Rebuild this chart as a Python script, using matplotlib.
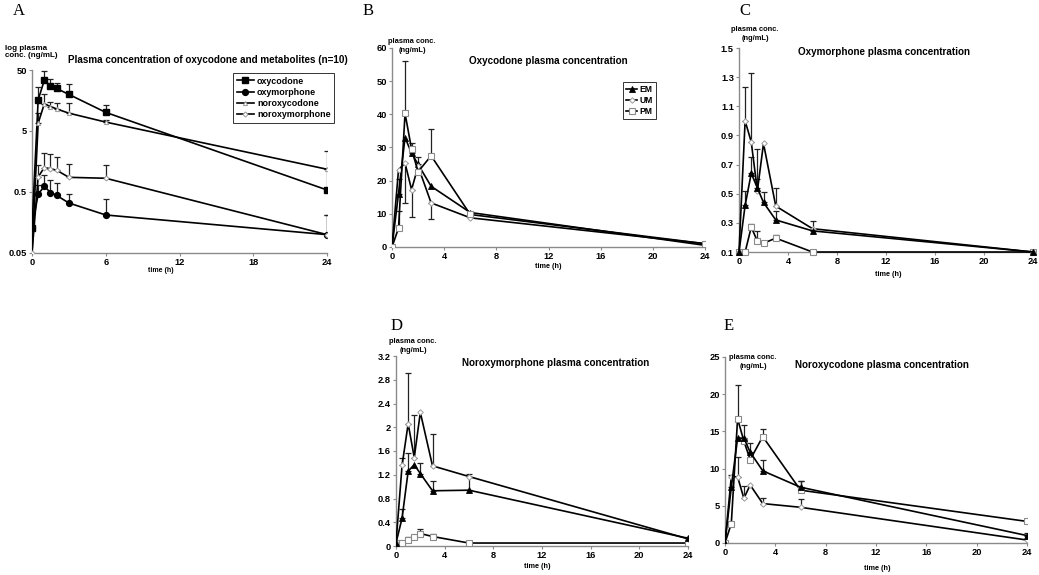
import numpy as np
import matplotlib
matplotlib.use("Agg")
import matplotlib.pyplot as plt

plt.rcParams['font.family'] = ['Liberation Sans', 'DejaVu Sans']
plt.rcParams['font.weight'] = 'bold'

W, H = 1039, 575
def fx(px): return px / W
def fy(py): return 1 - py / H

# ---------------- data ----------------
time_h = [0, 0.5, 1, 1.5, 2, 3, 6, 24]

# Panel A (log scale, n=10)
a_oxycodone = [0.13, 16.2, 33.8, 27.6, 24.9, 19.9, 10.1, 0.54]
a_oxycodone_sd = [0, 9.7, 13.7, 7.9, 5.6, 9.3, 3.0, 0.66]
a_oxymorphone = [0.13, 0.46, 0.62, 0.49, 0.44, 0.33, 0.21, 0.10]
a_oxymorphone_sd = [0, 0.20, 0.33, 0.31, 0.26, 0.13, 0.17, 0.11]
a_noroxycodone = [0.05, 6.7, 13.9, 12.6, 11.5, 9.8, 7.0, 1.18]
a_noroxycodone_sd = [0, 3.3, 6.0, 2.6, 3.1, 4.4, 0.5, 1.2]
a_noroxymorphone = [0.05, 0.88, 1.26, 1.2, 1.14, 0.87, 0.84, 0.10]
a_noroxymorphone_sd = [0, 0.52, 0.88, 0.9, 0.7, 0.57, 0.55, 0.11]

# Panel B: oxycodone
b_em = [0, 16.1, 33.0, 28.3, 24.9, 18.3, 10.4, 0.5]
b_em_sd = [0, 4.4, 0, 1.7, 2.1, 0, 0, 0]
b_um = [0, 23.3, 25.3, 17.3, 24.3, 13.3, 8.8, 1.0]
b_um_sd_down = [0, 0, 12.1, 8.3, 0, 4.8, 0, 0]
b_pm = [0, 5.7, 40.3, 29.5, 22.7, 27.5, 9.8, 1.0]
b_pm_sd = [0, 5.3, 15.7, 2.0, 0, 8.0, 0, 0]

# Panel C: oxymorphone
c_em = [0.1, 0.42, 0.64, 0.54, 0.44, 0.32, 0.245, 0.1]
c_em_sd = [0, 0.10, 0.11, 0.06, 0.07, 0.06, 0.065, 0]
c_um = [0.1, 1.0, 0.855, 0.52, 0.845, 0.415, 0.26, 0.1]
c_um_sd = [0, 0.23, 0.475, 0.29, 0, 0.125, 0, 0]
c_pm = [0.1, 0.1, 0.27, 0.175, 0.16, 0.195, 0.1, 0.1]
c_pm_sd = [0, 0, 0.02, 0.07, 0, 0.025, 0, 0]

# Panel D: noroxymorphone
d_em = [0.05, 0.47, 1.26, 1.37, 1.22, 0.93, 0.94, 0.13]
d_em_sd = [0, 0.15, 0.31, 0, 0.18, 0.16, 0.28, 0.03]
d_um = [0.05, 1.36, 2.06, 1.49, 2.25, 1.35, 1.17, 0.12]
d_um_sd = [0, 0.13, 0.86, 0.71, 0, 0.54, 0, 0]
d_pm = [0.05, 0.05, 0.1, 0.16, 0.21, 0.16, 0.05, 0.05]
d_pm_sd = [0, 0, 0.06, 0, 0.07, 0.04, 0, 0]

# Panel E: noroxycodone
e_em = [0, 7.5, 14.1, 14.1, 12.2, 9.7, 7.5, 1.0]
e_em_sd = [0, 1.7, 0, 1.8, 1.2, 1.4, 0.9, 0.4]
e_um = [0, 8.9, 8.9, 6.0, 7.8, 5.3, 4.8, 0.4]
e_um_sd = [0, 0, 2.7, 1.6, 0, 0.7, 1.1, 0]
e_pm = [0, 2.6, 16.7, 13.7, 11.2, 14.3, 7.1, 2.9]
e_pm_sd = [0, 0, 4.6, 0, 0, 1.0, 1.3, 0.3]

# ---------------- styling ----------------
AXCOL = '#8a8a8a'
TICKFS = 6.7
TITLEFS = 7.1
LABFS = 5.4
LW = 1.2
styles = {
    'EM': dict(marker='^', ms=4.0, mfc='black', mec='black', mew=0.6),
    'UM': dict(marker='D', ms=2.8, mfc='white', mec='#9a9a9a', mew=0.7),
    'PM': dict(marker='s', ms=4.0, mfc='white', mec='#8a8a8a', mew=0.8),
}

fig = plt.figure(figsize=(W / 100, H / 100), dpi=100)


def make_ax(x0, x1, ytop, ybot):
    ax = fig.add_axes([fx(x0), fy(ybot), fx(x1) - fx(x0), (ybot - ytop) / H])
    for s in ('top', 'right'):
        ax.spines[s].set_visible(False)
    for s in ('left', 'bottom'):
        ax.spines[s].set_color(AXCOL)
        ax.spines[s].set_linewidth(1.0)
    ax.tick_params(axis='both', direction='out', length=2.5, width=0.8, color=AXCOL,
                   labelsize=TICKFS, pad=1.2)
    ax.set_xlim(0, 24)
    ax.patch.set_alpha(0)
    return ax


def draw_err(ax, y, up, down=None):
    y = np.asarray(y, float)
    up = np.asarray(up, float)
    down = np.zeros_like(up) if down is None else np.asarray(down, float)
    t = np.asarray(time_h, float)
    m = (up > 0) | (down > 0)
    if m.any():
        lo = np.where(down > 0, down, 0)
        ax.errorbar(t[m], y[m], yerr=[lo[m], up[m]], fmt='none', ecolor='#222222',
                    elinewidth=0.9, capsize=2.0, capthick=0.9, zorder=2)


def draw_series(ax, y, key, label=None, up=None, down=None):
    if up is not None or down is not None:
        draw_err(ax, y, up if up is not None else [0] * len(y), down)
    ln, = ax.plot(time_h, y, color='black', lw=LW, label=label, zorder=3, **styles[key])
    return ln


def bold_ticks(ax):
    for lab in ax.get_xticklabels() + ax.get_yticklabels():
        lab.set_fontweight('bold')
        lab.set_fontsize(TICKFS)


# ---------------- Panel A ----------------
axA = make_ax(32, 327, 70, 253)
axA.set_yscale('log')
axA.set_ylim(0.05, 50)
axA.set_yticks([0.05, 0.5, 5, 50])
axA.set_yticklabels(['0.05', '0.5', '5', '50'])
axA.yaxis.set_minor_locator(matplotlib.ticker.NullLocator())
axA.set_xticks([0, 6, 12, 18, 24])
draw_err(axA, a_oxycodone, a_oxycodone_sd)
draw_err(axA, a_oxymorphone, a_oxymorphone_sd)
draw_err(axA, a_noroxycodone, a_noroxycodone_sd)
draw_err(axA, a_noroxymorphone, a_noroxymorphone_sd)
hA1, = axA.plot(time_h, a_oxycodone, color='black', lw=LW, marker='s', ms=4.2, mfc='black',
                mec='black', label='oxycodone', zorder=4)
hA2, = axA.plot(time_h, a_oxymorphone, color='black', lw=LW, marker='o', ms=4.2, mfc='black',
                mec='black', label='oxymorphone', zorder=4)
hA3, = axA.plot(time_h, a_noroxycodone, color='black', lw=LW, marker='^', ms=3.0, mfc='white',
                mec='#9a9a9a', mew=0.7, label='noroxycodone', zorder=4)
hA4, = axA.plot(time_h, a_noroxymorphone, color='black', lw=LW, marker='D', ms=2.6, mfc='white',
                mec='#9a9a9a', mew=0.7, label='noroxymorphone', zorder=4)
bold_ticks(axA)
legA = fig.legend(handles=[hA1, hA2, hA3, hA4], loc='upper left',
                  bbox_to_anchor=(fx(233), fy(73)), fontsize=6.4, frameon=True,
                  fancybox=False, edgecolor='black', handlelength=2.0,
                  handletextpad=0.3, borderpad=0.4, labelspacing=0.25,
                  borderaxespad=0)
legA.get_frame().set_linewidth(0.7)

fig.text(fx(13), fy(3), 'A', family='Liberation Serif', fontweight='normal',
         fontsize=12, va='top', ha='left')
fig.text(fx(5), fy(52), 'log plasma\nconc. (ng/mL)', fontsize=5.8, ha='left',
         va='center', linespacing=1.1)
fig.text(fx(208), fy(60), 'Plasma concentration of oxycodone and metabolites (n=10)',
         fontsize=TITLEFS, ha='center', va='center')
fig.text(fx(161), fy(270), 'time (h)', fontsize=5.0, ha='center', va='center')

# ---------------- Panel B ----------------
axB = make_ax(392, 705, 48, 247)
axB.set_ylim(0, 60)
axB.set_yticks(range(0, 61, 10))
axB.set_xticks(range(0, 25, 4))
hB1 = draw_series(axB, b_em, 'EM', 'EM', up=b_em_sd)
hB2 = draw_series(axB, b_um, 'UM', 'UM', down=b_um_sd_down)
hB3 = draw_series(axB, b_pm, 'PM', 'PM', up=b_pm_sd)
bold_ticks(axB)
legB = fig.legend(handles=[hB1, hB2, hB3], loc='upper left',
                  bbox_to_anchor=(fx(623), fy(82)), fontsize=6.2, frameon=True,
                  fancybox=False, edgecolor='black', handlelength=1.3,
                  handletextpad=0.25, borderpad=0.35, labelspacing=0.25,
                  borderaxespad=0)
legB.get_frame().set_linewidth(0.7)
fig.text(fx(363), fy(3), 'B', family='Liberation Serif', fontweight='normal',
         fontsize=12, va='top', ha='left')
fig.text(fx(412), fy(46), 'plasma conc.\n(ng/mL)', fontsize=LABFS, ha='center',
         va='center', linespacing=1.4)
fig.text(fx(548), fy(61), 'Oxycodone plasma concentration', fontsize=TITLEFS,
         ha='center', va='center')
fig.text(fx(548), fy(267), 'time (h)', fontsize=5.2, ha='center', va='center')

# ---------------- Panel C ----------------
axC = make_ax(739, 1033, 48, 252)
axC.set_ylim(0.1, 1.5)
axC.set_yticks([0.1, 0.3, 0.5, 0.7, 0.9, 1.1, 1.3, 1.5])
axC.set_yticklabels(['0.1', '0.3', '0.5', '0.7', '0.9', '1.1', '1.3', '1.5'])
axC.set_xticks(range(0, 25, 4))
draw_series(axC, c_pm, 'PM', up=c_pm_sd)
draw_series(axC, c_um, 'UM', up=c_um_sd)
draw_series(axC, c_em, 'EM', up=c_em_sd)
for ln in axC.get_lines():
    ln.set_clip_on(False)
bold_ticks(axC)
fig.text(fx(739), fy(3), 'C', family='Liberation Serif', fontweight='normal',
         fontsize=12, va='top', ha='left')
fig.text(fx(755), fy(34), 'plasma conc.\n(ng/mL)', fontsize=LABFS, ha='center',
         va='center', linespacing=1.3)
fig.text(fx(884), fy(52), 'Oxymorphone plasma concentration', fontsize=TITLEFS,
         ha='center', va='center')
fig.text(fx(888), fy(274), 'time (h)', fontsize=5.2, ha='center', va='center')

# ---------------- Panel D ----------------
axD = make_ax(396, 688, 356, 546)
axD.set_ylim(0, 3.2)
axD.set_yticks([0, 0.4, 0.8, 1.2, 1.6, 2, 2.4, 2.8, 3.2])
axD.set_yticklabels(['0', '0.4', '0.8', '1.2', '1.6', '2', '2.4', '2.8', '3.2'])
axD.set_xticks(range(0, 25, 4))
draw_series(axD, d_pm, 'PM', up=d_pm_sd)
draw_series(axD, d_um, 'UM', up=d_um_sd)
draw_series(axD, d_em, 'EM', up=d_em_sd)
bold_ticks(axD)
fig.text(fx(391), fy(318), 'D', family='Liberation Serif', fontweight='normal',
         fontsize=12, va='top', ha='left')
fig.text(fx(413), fy(346), 'plasma conc.\n(ng/mL)', fontsize=LABFS, ha='center',
         va='center', linespacing=1.3)
fig.text(fx(556), fy(363), 'Noroxymorphone plasma concentration', fontsize=TITLEFS,
         ha='center', va='center')
fig.text(fx(537), fy(567), 'time (h)', fontsize=5.2, ha='center', va='center')

# ---------------- Panel E ----------------
axE = make_ax(725, 1027, 357, 543)
axE.set_ylim(0, 25)
axE.set_yticks(range(0, 26, 5))
axE.set_xticks(range(0, 25, 4))
draw_series(axE, e_um, 'UM', up=e_um_sd)
draw_series(axE, e_pm, 'PM', up=e_pm_sd)
draw_series(axE, e_em, 'EM', up=e_em_sd)
bold_ticks(axE)
fig.text(fx(724), fy(318), 'E', family='Liberation Serif', fontweight='normal',
         fontsize=12, va='top', ha='left')
fig.text(fx(753), fy(362), 'plasma conc.\n(ng/mL)', fontsize=LABFS, ha='center',
         va='center', linespacing=1.3)
fig.text(fx(882), fy(365), 'Noroxycodone plasma concentration', fontsize=TITLEFS,
         ha='center', va='center')
fig.text(fx(877), fy(569), 'time (h)', fontsize=5.2, ha='center', va='center')

fig.savefig('out.png', dpi=100)
